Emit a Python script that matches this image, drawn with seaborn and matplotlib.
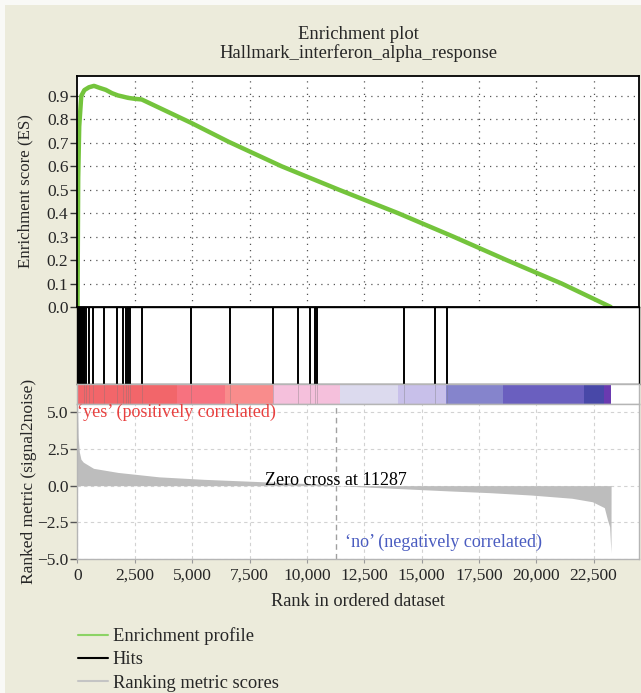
import numpy as np
import pandas as pd
import matplotlib
matplotlib.use("Agg")
import matplotlib.pyplot as plt
from matplotlib.lines import Line2D
from matplotlib.patches import Rectangle
from matplotlib.ticker import FuncFormatter
import seaborn as sns

# running enrichment score (rank, ES)
es_rank = [0, 30, 75, 164, 300, 500, 720, 950, 1233, 1500, 1770, 1950, 2200, 2482,
           2800, 4960, 6580, 8900, 11400, 13980, 16390, 18710, 21110, 23250]
es_value = [0.0, 0.55, 0.77, 0.90, 0.925, 0.937, 0.943, 0.935, 0.926, 0.912, 0.902, 0.898,
            0.892, 0.888, 0.885, 0.785, 0.705, 0.60, 0.50, 0.40, 0.30, 0.20, 0.10, 0.0]

# gene set hit positions
hit_ranks = [5, 20, 35, 50, 65, 80, 95, 110, 125, 140, 155, 170, 185, 200, 215, 230,
             245, 260, 275, 290, 305, 379, 493, 668, 1147, 1731, 1975, 2093, 2193, 2281,
             2791, 4958, 6659, 8519, 9609, 10147, 10366, 10436, 14220, 15598, 16091]

# ranked list metric (signal2noise)
metric_rank = [0, 30, 80, 150, 253, 698, 1769, 3551, 5513, 8009, 10860, 11287, 14426,
               16209, 17991, 19775, 21557, 22450, 22970, 23110, 23200, 23260, 23265]
metric_value = [5.5, 3.3, 2.3, 1.8, 1.6, 1.18, 0.9, 0.6, 0.43, 0.27, 0.09, 0.0, -0.23,
                -0.36, -0.48, -0.64, -0.86, -1.1, -1.5, -2.35, -2.8, -4.59, 0.0]

# heat bar below the hits
band_edges = [0, 4317, 6411, 8504, 11457, 13955, 16080, 18535, 22067, 22940, 23275]
band_colors = ['#f2666a', '#f7727f', '#f98c8c', '#f5c0dc', '#dcdaee',
               '#c8c0ea', '#8584cc', '#6a5fbf', '#4848a8', '#6a3ab0']

zero_cross = 11287
n_max = 24460

sns.set_style("white")
plt.rcParams['font.family'] = ['Liberation Serif', 'DejaVu Serif']
plt.rcParams['font.size'] = 12.5

fig = plt.figure(figsize=(6.41, 6.93), dpi=100, facecolor='#f9f9f6')
fig.add_artist(Rectangle((5 / 641, 0), 1, 1 - 5 / 693, transform=fig.transFigure,
                         facecolor='#ecebdb', edgecolor='none', zorder=-10))

left, width = 0.1209, 0.8752
ax_es = fig.add_axes([left, 0.557, width, 0.3333])
ax_hit = fig.add_axes([left, 0.4459, width, 0.1111])
ax_bar = fig.add_axes([left, 0.417, width, 0.0289])
ax_rm = fig.add_axes([left, 0.1934, width, 0.2237])

xgrid = [2500, 5000, 7500, 10000, 12500, 15000, 17500, 20000, 22500]

# enrichment score panel
es_df = pd.DataFrame({'rank': es_rank, 'es': es_value})
sns.lineplot(data=es_df, x='rank', y='es', ax=ax_es, color='#74c43c', lw=3.2, sort=False)
ax_es.set_xlim(0, n_max)
ax_es.set_ylim(0, 0.985)
ax_es.set_yticks(np.arange(0, 1.0, 0.1))
ax_es.yaxis.set_major_formatter(FuncFormatter(lambda v, p: f'{v:.1f}'))
ax_es.set_xticks(xgrid)
ax_es.tick_params(axis='x', length=0, labelbottom=False)
ax_es.tick_params(axis='y', direction='out', length=5, width=1, color='#333333', left=True, pad=1.5)
ax_es.grid(True, linestyle=(0, (1, 4)), color='#555555', lw=0.9)
ax_es.set_xlabel('')
ax_es.set_ylabel('Enrichment score (ES)', labelpad=10, fontsize=12.2)
for s in ax_es.spines.values():
    s.set_color('black')
    s.set_linewidth(1.3)
ax_es.set_title('Enrichment plot\nHallmark_interferon_alpha_response', pad=13.3,
                linespacing=1.05, fontsize=13.4)

# hits
ax_hit.vlines(hit_ranks, 0, 1, color='black', lw=1.4)
ax_hit.set_xlim(0, n_max)
ax_hit.set_ylim(0, 1)
ax_hit.set_xticks([])
ax_hit.set_yticks([])
for s in ax_hit.spines.values():
    s.set_color('black')
    s.set_linewidth(1.0)

# heat bar
for a, b, c in zip(band_edges[:-1], band_edges[1:], band_colors):
    ax_bar.axvspan(a, b, color=c, lw=0)
ax_bar.vlines([r for r in hit_ranks if r > 300], 0, 1, color='#777777', lw=0.5, alpha=0.5)
ax_bar.set_xlim(0, n_max)
ax_bar.set_ylim(0, 1)
ax_bar.set_xticks([])
ax_bar.set_yticks([])
for s in ax_bar.spines.values():
    s.set_color('#b5b5b5')
    s.set_linewidth(1.0)

# ranked metric
ax_rm.fill_between(metric_rank, 0, metric_value, color='#bdbdbd', lw=0)
ax_rm.axvline(zero_cross, color='#a0a0a0', ls=(0, (4, 3)), lw=1)
ax_rm.set_xlim(0, n_max)
ax_rm.set_ylim(-5, 5.57)
ax_rm.set_yticks([-5, -2.5, 0, 2.5, 5])
ax_rm.yaxis.set_major_formatter(FuncFormatter(lambda v, p: f'{v:.1f}'.replace('-', '\u2212')))
ax_rm.set_xticks([0] + xgrid)
ax_rm.xaxis.set_major_formatter(FuncFormatter(lambda v, p: f'{int(v):,}'))
ax_rm.tick_params(axis='y', direction='out', length=5, width=1, color='#555555', left=True, pad=1.5)
ax_rm.tick_params(axis='x', direction='out', length=3, width=0.8, color='#999999', bottom=True, pad=3.5)
ax_rm.grid(True, linestyle=(0, (3, 3)), color='#d2d2d2', lw=0.8)
for s in ax_rm.spines.values():
    s.set_color('#b5b5b5')
    s.set_linewidth(1.0)
ax_rm.set_xlabel('Rank in ordered dataset', labelpad=6.5, fontsize=13.2)
ax_rm.set_ylabel('Ranked metric (signal2noise)', labelpad=0, fontsize=12.5)

ax_rm.text(0, 5.0, '\u2018yes\u2019 (positively correlated)', color='#e8403f',
           ha='left', va='center', fontsize=13)
ax_rm.text(zero_cross, 0.32, 'Zero cross at 11287', color='black',
           ha='center', va='center', fontsize=13)
ax_rm.text(11660, -3.9, '\u2018no\u2019 (negatively correlated)', color='#4a5cc0',
           ha='left', va='center', fontsize=13)

handles = [Line2D([], [], color='#8cd365', lw=1.5),
           Line2D([], [], color='black', lw=1.5),
           Line2D([], [], color='#c4c4c4', lw=1.5)]
fig.legend(handles, ['Enrichment profile', 'Hits', 'Ranking metric scores'],
           loc='upper left', bbox_to_anchor=(78 / 641, 1 - 627.5 / 693), frameon=False,
           fontsize=13.3, handlelength=1.6, handletextpad=0.27, labelspacing=0.33,
           borderpad=0, borderaxespad=0)

fig.savefig('out.png', dpi=100, facecolor=fig.get_facecolor())
